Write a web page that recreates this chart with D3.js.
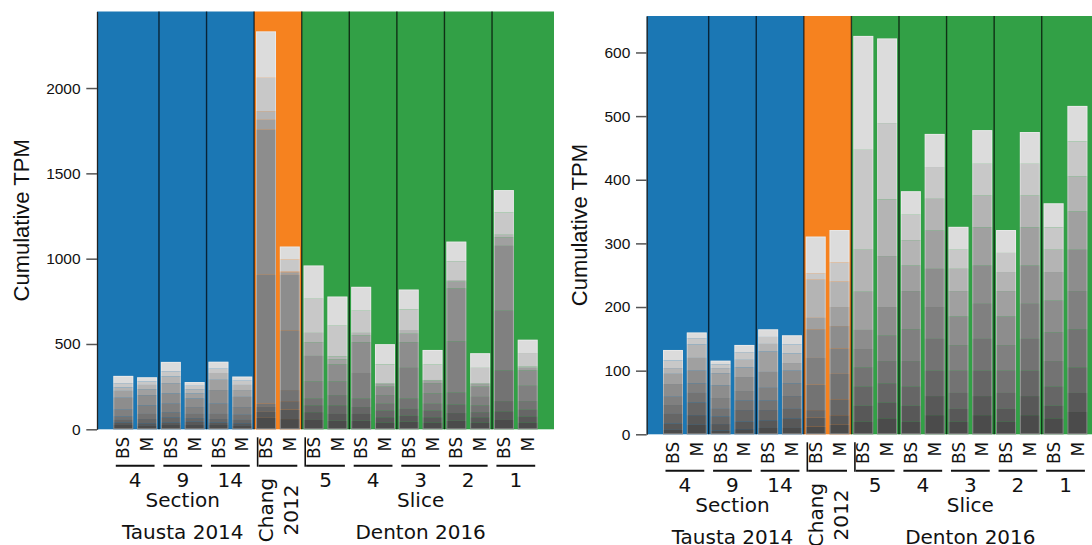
<!DOCTYPE html>
<html>
<head>
<meta charset="utf-8">
<script src="https://cdn.jsdelivr.net/npm/d3@7/dist/d3.min.js"></script>
<style>
  body { margin: 0; background: #fff; }
  .tick text { font-family: "Liberation Sans", Arial, sans-serif; font-size: 15.5px; fill: #111; }
  .cat { font-family: "DejaVu Sans", sans-serif; fill: #111; }
</style>
</head>
<body>
<svg id="chart" width="1092" height="545"></svg>
<script>
// categories
const cellTypes = ["BS", "M"];
const groupNames = ["4", "9", "14", "", "5", "4", "3", "2", "1"];
const groupDataset = [0, 0, 0, 1, 2, 2, 2, 2, 2];
const datasetNames = ["Tausta 2014", "Chang\n2012", "Denton 2016"];
const datasetUnits = ["Section", "", "Slice"];
const datasetColors = ["#1b77b4", "#f6821f", "#32a046"];

// grey shade of each stacked gene, bottom to top
const shades = ["#4b4b4b", "#585858", "#666666", "#737373", "#808080",
                "#8d8d8d", "#a0a0a0", "#b4b4b4", "#c8c8c8", "#dcdcdc"];

// stacked TPM per bar (bottom -> top), left panel
const leftTPM = [
  [25, 15, 15, 20, 40, 70, 40, 20, 25, 43],
  [20, 15, 25, 30, 50, 60, 35, 25, 20, 25],
  [25, 15, 30, 30, 50, 60, 60, 40, 30, 55],
  [25, 20, 20, 25, 40, 50, 30, 25, 20, 22],
  [25, 15, 20, 30, 60, 80, 60, 40, 25, 41],
  [20, 15, 20, 30, 45, 60, 40, 30, 25, 24],
  [67, 35, 29, 20, 755, 850, 58, 50, 196, 272],
  [60, 55, 50, 65, 350, 325, 15, 5, 70, 76],
  [55, 45, 40, 40, 100, 150, 80, 55, 200, 195],
  [50, 40, 50, 60, 80, 100, 30, 17, 180, 171],
  [50, 40, 40, 50, 150, 180, 40, 15, 130, 140],
  [40, 30, 40, 40, 50, 50, 15, 5, 110, 119],
  [45, 35, 40, 60, 180, 150, 50, 22, 120, 117],
  [40, 30, 40, 40, 60, 60, 15, 4, 90, 86],
  [50, 45, 50, 70, 300, 310, 40, 10, 110, 115],
  [40, 30, 30, 40, 50, 60, 15, 5, 90, 86],
  [55, 50, 60, 180, 350, 380, 50, 15, 130, 132],
  [40, 35, 40, 50, 90, 90, 15, 7, 80, 78]
];

// stacked TPM per bar (bottom -> top), right panel
const rightTPM = [
  [7, 10, 15, 14, 13, 20, 16, 9, 12, 16.5],
  [15, 15, 20, 15, 15, 20, 20, 21, 10, 9],
  [6, 10, 12, 12, 17, 20, 19, 8, 6, 5.7],
  [8, 12, 18, 15, 15, 22, 15, 12, 12, 11.4],
  [10, 12, 16, 15, 20, 25, 32, 12, 11, 12],
  [10, 15, 15, 20, 20, 20, 12, 15, 14, 14.6],
  [12, 14, 12, 40, 42, 45, 18, 60, 10, 57.7],
  [15, 15, 25, 40, 40, 35, 30, 40, 30, 51],
  [20, 25, 30, 30, 29, 30, 60, 66, 157, 179],
  [25, 25, 30, 35, 40, 45, 80, 89, 120, 133],
  [20, 25, 30, 40, 50, 60, 40, 40, 40, 37],
  [30, 30, 40, 50, 50, 60, 60, 50, 50, 52],
  [20, 20, 25, 35, 40, 45, 40, 35, 30, 36],
  [30, 30, 40, 50, 55, 60, 60, 50, 50, 53],
  [20, 20, 25, 35, 40, 45, 40, 30, 30, 36],
  [30, 30, 40, 50, 55, 60, 60, 50, 50, 50],
  [25, 20, 30, 40, 45, 50, 45, 35, 35, 38],
  [35, 30, 40, 60, 60, 65, 60, 55, 55, 56]
];

const leftTicks = [0, 500, 1000, 1500, 2000];
const rightTicks = [0, 100, 200, 300, 400, 500, 600];

// one entry per bar
const bars = [];
groupNames.forEach((g, gi) => cellTypes.forEach(c => bars.push({ cell: c, group: gi, ds: groupDataset[gi] })));

const svg = d3.select("#chart");

const panels = [
  { left: 97, right: 554, top: 11.5, bottom: 429.3, values: leftTPM, ticks: leftTicks },
  { left: 646.7, right: 1103.7, top: 16, bottom: 434.3, values: rightTPM, ticks: rightTicks }
];

function drawPanel(p) {
  const g = svg.append("g");

  const x = d3.scaleBand()
      .domain(d3.range(bars.length))
      .range([p.left, p.right])
      .paddingInner(0.16)
      .paddingOuter(0.685);
  const bw = x.bandwidth();
  const gap = (x.step() - bw) / 2;
  const edge = i => i >= bars.length ? p.right : (i <= 0 ? p.left : x(i) - gap);

  const y = d3.scaleLinear()
      .domain([0, d3.max(p.values, v => d3.sum(v)) * 1.05])
      .range([p.bottom, p.top]);

  // dataset background bands
  datasetNames.forEach((name, d) => {
    const first = bars.findIndex(b => b.ds === d);
    const last = d3.max(bars.map((b, i) => b.ds === d ? i : -1));
    g.append("rect")
        .attr("x", edge(first))
        .attr("y", p.top)
        .attr("width", edge(last + 1) - edge(first))
        .attr("height", p.bottom - p.top)
        .attr("fill", datasetColors[d]);
  });

  // group separators
  for (let k = 1; k < groupNames.length; k++) {
    g.append("line")
        .attr("x1", edge(2 * k)).attr("x2", edge(2 * k))
        .attr("y1", p.top).attr("y2", p.bottom)
        .attr("stroke", "rgba(0,0,0,0.7)")
        .attr("stroke-width", 1.4);
  }

  // stacked bars
  const keys = shades.map((s, k) => "s" + k);
  const rows = p.values.map(v => Object.fromEntries(v.map((d, k) => ["s" + k, d])));
  const series = d3.stack().keys(keys)(rows);

  g.selectAll(".layer")
    .data(series)
    .join("g")
      .attr("fill", (s, k) => shades[k])
    .selectAll("rect")
    .data(s => s)
    .join("rect")
      .attr("x", (d, i) => x(i))
      .attr("y", d => y(d[1]))
      .attr("width", bw)
      .attr("height", d => y(d[0]) - y(d[1]));

  g.selectAll(".outline")
    .data(p.values)
    .join("rect")
      .attr("x", (v, i) => x(i) + 0.5)
      .attr("y", v => y(d3.sum(v)) + 0.5)
      .attr("width", bw - 1)
      .attr("height", v => y(0) - y(d3.sum(v)) - 1)
      .attr("fill", "none")
      .attr("stroke", "rgba(255,255,255,0.35)");

  // y axis
  const axis = g.append("g")
      .attr("transform", "translate(" + p.left + ",0)")
      .call(d3.axisLeft(y).tickValues(p.ticks).tickFormat(d3.format("d"))
        .tickSize(10.7).tickPadding(5.7).tickSizeOuter(0));
  axis.select(".domain").attr("stroke", "#222").attr("stroke-width", 1.3);
  axis.selectAll(".tick line").attr("stroke", "#555").attr("stroke-width", 1.5);

  // bbox is in the axis' own coordinates
  const bb = axis.node().getBBox();
  svg.append("text")
      .attr("transform", "translate(" + (p.left + bb.x - 17) + "," + ((p.top + p.bottom) / 2) + ") rotate(-90)")
      .attr("text-anchor", "middle")
      .style("font-family", "'Liberation Sans', Arial, sans-serif")
      .style("font-size", "22px")
      .attr("fill", "#111")
      .text("Cumulative TPM");

  // BS / M labels
  g.selectAll(".cell")
    .data(bars)
    .join("text")
      .attr("class", "cat")
      .attr("transform", (b, i) => "translate(" + (x(i) + bw / 2) + "," + (p.bottom + 7.5) + ") rotate(-90)")
      .attr("text-anchor", "end")
      .attr("dy", "0.36em")
      .style("font-size", "17px")
      .text(b => b.cell);

  // group underlines and names
  groupNames.forEach((name, k) => {
    const x0 = x(2 * k), x1 = x(2 * k + 1) + bw;
    g.append("line")
        .attr("x1", x0 + 2.5).attr("x2", x1 - 2.5)
        .attr("y1", p.bottom + 36.4).attr("y2", p.bottom + 36.4)
        .attr("stroke", "#111").attr("stroke-width", 2);
    if (name) {
      g.append("text")
          .attr("class", "cat")
          .attr("x", (x0 + x1) / 2)
          .attr("y", p.bottom + 57.4)
          .attr("text-anchor", "middle")
          .style("font-size", "20px")
          .text(name);
    }
  });

  // dataset labels
  datasetNames.forEach((name, d) => {
    const first = bars.findIndex(b => b.ds === d);
    const last = d3.max(bars.map((b, i) => b.ds === d ? i : -1));
    const cx = (x(first) + x(last) + bw) / 2;
    if (d > 0) {
      g.append("line")
          .attr("x1", edge(first) + 3.5).attr("x2", edge(first) + 3.5)
          .attr("y1", p.bottom + 8).attr("y2", p.bottom + 37.4)
          .attr("stroke", "#111").attr("stroke-width", 1.6);
    }
    if (datasetUnits[d]) {
      g.append("text")
          .attr("class", "cat")
          .attr("x", cx)
          .attr("y", p.bottom + 77.4)
          .attr("text-anchor", "middle")
          .style("font-size", "20px")
          .text(datasetUnits[d]);
      g.append("text")
          .attr("class", "cat")
          .attr("x", cx)
          .attr("y", p.bottom + 110)
          .attr("text-anchor", "middle")
          .style("font-size", "20px")
          .text(name);
    } else {
      const lines = name.split("\n");
      const t = g.append("text")
          .attr("class", "cat")
          .attr("transform", "translate(" + cx + "," + (p.bottom + 80.7) + ") rotate(-90)")
          .attr("text-anchor", "middle")
          .style("font-size", "20px");
      lines.forEach((l, i) => {
        t.append("tspan")
            .attr("x", 0)
            .attr("y", -(lines.length - 1) * 12.5 + 7.5 + i * 25)
            .text(l);
      });
    }
  });
}

panels.forEach(drawPanel);
</script>
</body>
</html>
